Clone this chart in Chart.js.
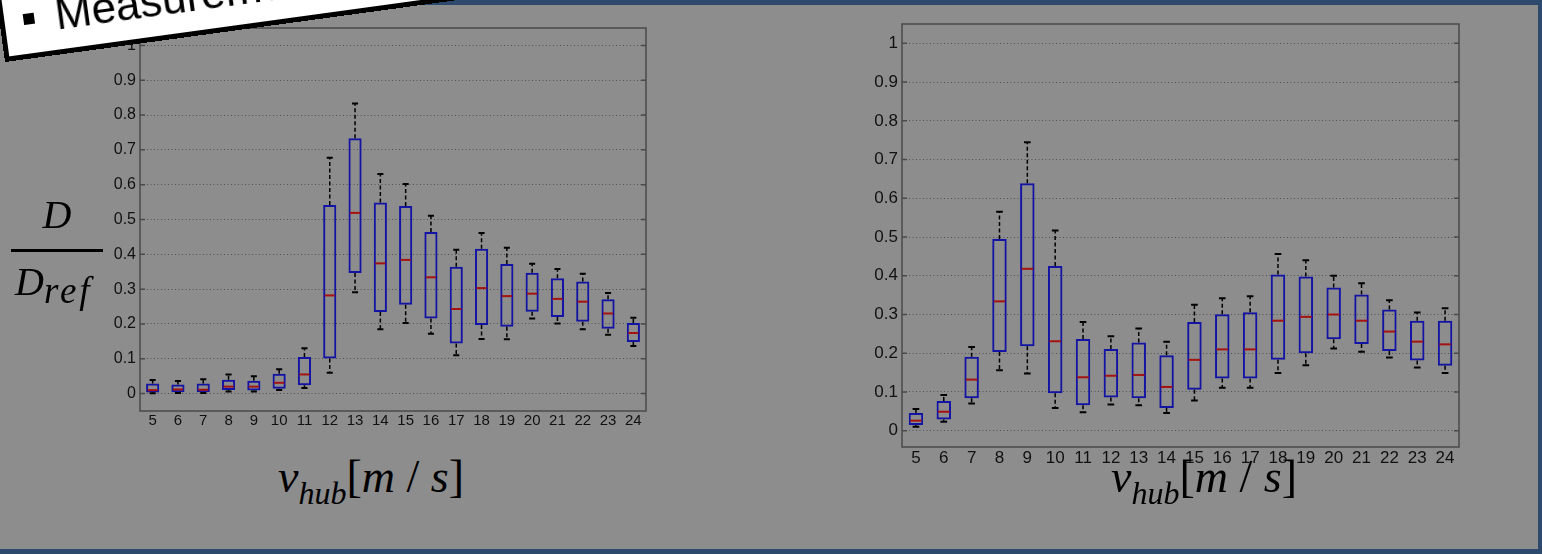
<!DOCTYPE html>
<html>
<head>
<meta charset="utf-8">
<script src="https://cdn.jsdelivr.net/npm/chart.js@4.4.1/dist/chart.umd.min.js"></script>
<style>
  html, body { margin: 0; padding: 0; }
  body {
    width: 1542px; height: 554px; position: relative; overflow: hidden;
    background: #8d8d8d; font-family: "Liberation Sans", Arial, sans-serif;
  }
  .band { position: absolute; background: #2d4a6c; }
  .chartBox { position: absolute; }
  .serif { position: absolute; font-family: "Liberation Serif", "Times New Roman", serif; color: #000; white-space: nowrap; }
  .xtitle { font-size: 46px; line-height: 46px; top: 454px; }
  .xtitle i { font-style: italic; }
  .xtitle .sub { font-size: 32px; font-style: italic; vertical-align: -12px; }
  #label {
    position: absolute; left: 5px; top: -18px; width: 640px; height: 80px;
    box-sizing: border-box; background: #fff; border: 5px solid #000;
    transform-origin: 0 100%; transform: rotate(-7.8deg);
  }
  #label .bullet { position: absolute; left: 19px; bottom: 29px; width: 11px; height: 11px; background: #000; }
  #label .txt { position: absolute; left: 51px; bottom: 13px; font-size: 44px; line-height: 44px; color: #000; }
</style>
</head>
<body>
<div class="band" style="left:0;top:0;width:1542px;height:5px"></div>
<div class="band" style="left:1538px;top:0;width:4px;height:554px"></div>
<div class="band" style="left:0;top:549px;width:1542px;height:5px"></div>

<div class="chartBox" style="left:90px;top:18px"><canvas id="chartL" width="570" height="430"></canvas></div>
<div class="chartBox" style="left:850px;top:14px"><canvas id="chartR" width="620" height="470"></canvas></div>

<!-- y label D / D_ref -->
<div class="serif" style="left:0;width:114px;text-align:center;top:195px;font-size:40px;line-height:40px;font-style:italic">D</div>
<div style="position:absolute;left:11px;top:249px;width:92px;height:2.5px;background:#000"></div>
<div class="serif" style="left:15px;top:262px;font-size:40px;line-height:40px;font-style:italic">D<span style="font-size:37px;letter-spacing:3px;vertical-align:-8px">ref</span></div>

<!-- x titles -->
<div class="serif xtitle" style="left:278px"><i>v</i><span class="sub">hub</span>[<i>m</i> / <i>s</i>]</div>
<div class="serif xtitle" style="left:1111px"><i>v</i><span class="sub">hub</span>[<i>m</i> / <i>s</i>]</div>

<div id="label"><span class="bullet"></span><span class="txt">Measurements</span></div>

<script>
// wind speed bins
const speeds = ['5','6','7','8','9','10','11','12','13','14','15','16','17','18','19','20','21','22','23','24'];
const yTicks = [0, 0.1, 0.2, 0.3, 0.4, 0.5, 0.6, 0.7, 0.8, 0.9, 1];
const yTickLabels = ['0','0.1','0.2','0.3','0.4','0.5','0.6','0.7','0.8','0.9','1'];

// left plot
const loL  = [0.001,0.002,0.002,0.006,0.006,0.010,0.016,0.060,0.291,0.185,0.203,0.172,0.110,0.157,0.156,0.216,0.201,0.185,0.169,0.137];
const q1L  = [0.003,0.004,0.004,0.010,0.009,0.014,0.024,0.101,0.346,0.234,0.255,0.216,0.144,0.197,0.192,0.235,0.220,0.206,0.186,0.148];
const medL = [0.010,0.012,0.011,0.020,0.020,0.031,0.055,0.282,0.519,0.374,0.384,0.334,0.243,0.303,0.280,0.287,0.272,0.264,0.230,0.174];
const q3L  = [0.029,0.026,0.029,0.040,0.037,0.057,0.105,0.542,0.733,0.549,0.539,0.464,0.364,0.416,0.372,0.347,0.331,0.322,0.271,0.203];
const hiL  = [0.039,0.036,0.041,0.055,0.050,0.070,0.130,0.677,0.833,0.631,0.602,0.511,0.413,0.461,0.419,0.373,0.358,0.344,0.289,0.218];

// right plot
const loR  = [0.010,0.023,0.070,0.156,0.148,0.059,0.048,0.068,0.066,0.046,0.078,0.111,0.111,0.149,0.169,0.212,0.204,0.189,0.163,0.149];
const q1R  = [0.015,0.029,0.084,0.203,0.218,0.097,0.066,0.086,0.084,0.059,0.106,0.135,0.135,0.183,0.200,0.236,0.224,0.206,0.181,0.168];
const medR = [0.026,0.049,0.132,0.334,0.418,0.231,0.138,0.142,0.144,0.113,0.183,0.210,0.210,0.284,0.294,0.300,0.284,0.256,0.230,0.223];
const q3R  = [0.046,0.077,0.191,0.495,0.639,0.425,0.237,0.211,0.228,0.195,0.281,0.301,0.306,0.403,0.398,0.370,0.352,0.313,0.284,0.284];
const hiR  = [0.056,0.092,0.216,0.565,0.745,0.517,0.281,0.244,0.264,0.230,0.325,0.342,0.347,0.456,0.440,0.400,0.381,0.337,0.305,0.316];

const BLUE = '#1414a4';
const RED = '#a41212';

// whiskers, caps and median drawn on top of the floating-bar boxes
function whiskerPlugin(lo, q1, med, q3, hi) {
  return {
    id: 'whiskers',
    afterDatasetsDraw(chart) {
      const ctx = chart.ctx;
      const y = chart.scales.y;
      const bars = chart.getDatasetMeta(0).data;
      ctx.save();
      bars.forEach((bar, i) => {
        const cx = bar.x;
        const capHalf = bar.width * 0.23;
        ctx.strokeStyle = '#000';
        ctx.lineWidth = 1.5;
        ctx.setLineDash([4, 2.5]);
        ctx.beginPath();
        ctx.moveTo(cx, y.getPixelForValue(q3[i]));
        ctx.lineTo(cx, y.getPixelForValue(hi[i]));
        ctx.moveTo(cx, y.getPixelForValue(q1[i]));
        ctx.lineTo(cx, y.getPixelForValue(lo[i]));
        ctx.stroke();
        ctx.setLineDash([]);
        ctx.lineWidth = 2;
        ctx.beginPath();
        ctx.moveTo(cx - capHalf, y.getPixelForValue(hi[i]));
        ctx.lineTo(cx + capHalf, y.getPixelForValue(hi[i]));
        ctx.moveTo(cx - capHalf, y.getPixelForValue(lo[i]));
        ctx.lineTo(cx + capHalf, y.getPixelForValue(lo[i]));
        ctx.stroke();
        ctx.strokeStyle = RED;
        ctx.lineWidth = 2;
        ctx.beginPath();
        ctx.moveTo(cx - bar.width / 2 + 1.5, y.getPixelForValue(med[i]));
        ctx.lineTo(cx + bar.width / 2 - 1.5, y.getPixelForValue(med[i]));
        ctx.stroke();
      });
      ctx.restore();
    }
  };
}

// matlab style axes box with inner ticks
const axesBox = {
  id: 'axesBox',
  afterDraw(chart) {
    const ctx = chart.ctx;
    const a = chart.chartArea;
    const y = chart.scales.y;
    ctx.save();
    ctx.strokeStyle = '#4a4a4a';
    ctx.lineWidth = 1.5;
    ctx.strokeRect(a.left, a.top, a.right - a.left, a.bottom - a.top);
    ctx.beginPath();
    y.ticks.forEach(t => {
      const py = y.getPixelForValue(t.value);
      ctx.moveTo(a.left, py); ctx.lineTo(a.left + 5, py);
      ctx.moveTo(a.right - 5, py); ctx.lineTo(a.right, py);
    });
    ctx.stroke();
    ctx.restore();
  }
};

function makeChart(id, lo, q1, med, q3, hi, yMin, fontSize, yWidth, pad) {
  return new Chart(document.getElementById(id), {
    type: 'bar',
    data: {
      labels: speeds,
      datasets: [{
        data: q1.map((v, i) => [v, q3[i]]),
        backgroundColor: 'rgba(0,0,0,0)',
        borderColor: BLUE,
        borderWidth: 2,
        borderSkipped: false,
        barPercentage: 0.52,
        categoryPercentage: 1
      }]
    },
    options: {
      responsive: false,
      devicePixelRatio: 1,
      animation: false,
      layout: { padding: pad },
      plugins: { legend: { display: false }, tooltip: { enabled: false } },
      scales: {
        x: {
          grid: { display: false, drawTicks: false },
          border: { display: false },
          ticks: { color: '#111', font: { size: fontSize.x }, padding: 1, autoSkip: false, maxRotation: 0 },
          afterFit: s => { s.height = 37; s.paddingLeft = 0; s.paddingRight = 0; }
        },
        y: {
          min: yMin,
          max: 1.05,
          afterBuildTicks: s => { s.ticks = yTicks.map(v => ({ value: v })); },
          grid: { color: '#505050', lineWidth: 1, drawTicks: false },
          border: { display: false, dash: [1, 2.5] },
          ticks: { color: '#111', font: { size: fontSize.y }, padding: 4, callback: (v, i) => yTickLabels[i] },
          afterFit: s => { s.width = yWidth; s.paddingTop = 0; s.paddingBottom = 0; }
        }
      }
    },
    plugins: [whiskerPlugin(lo, q1, med, q3, hi), axesBox]
  });
}

makeChart('chartL', loL, q1L, medL, q3L, hiL, -0.05, { x: 15, y: 16 }, 50, { left: 0, top: 10, right: 14, bottom: 0 });
makeChart('chartR', loR, q1R, medR, q3R, hiR, -0.042, { x: 17, y: 17 }, 52, { left: 0, top: 10, right: 11, bottom: 0 });
</script>
</body>
</html>
